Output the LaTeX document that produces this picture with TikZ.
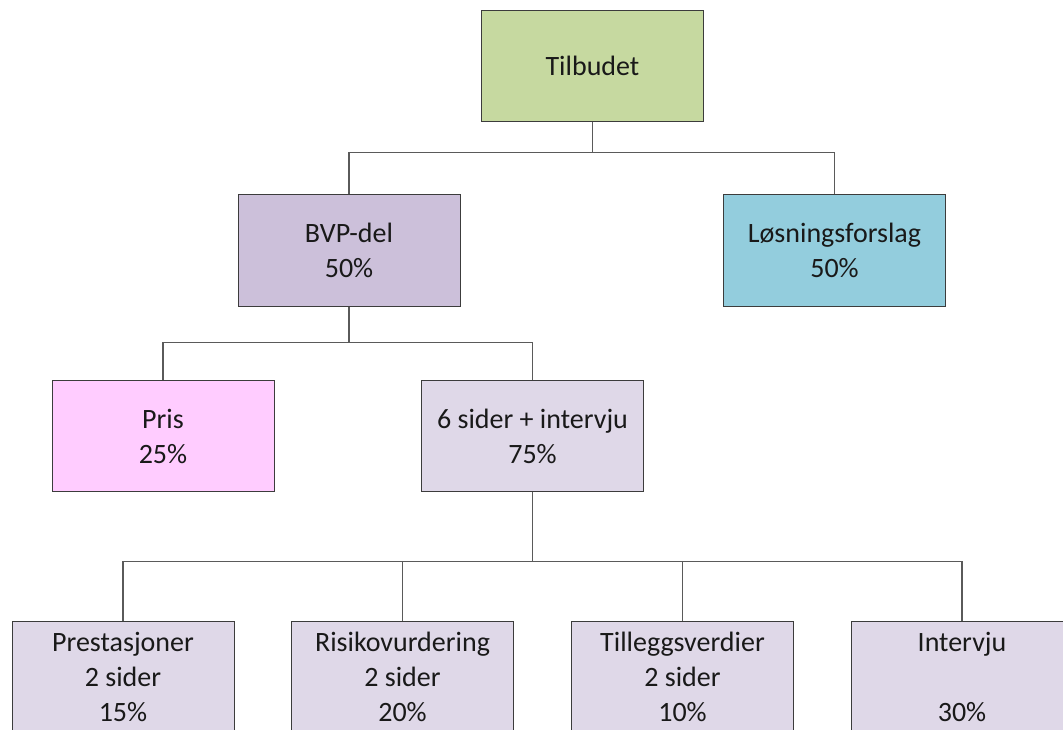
\documentclass[tikz,border=0pt]{standalone}
\usepackage{fontspec}
\setmainfont{Carlito}
\definecolor{topgreen}{HTML}{C6D9A0}
\definecolor{bvppurple}{HTML}{CCC0DA}
\definecolor{aqua}{HTML}{93CDDD}
\definecolor{pink}{HTML}{FFCCFF}
\definecolor{lavender}{HTML}{DFD8E8}
\definecolor{edge}{HTML}{3C3C3C}
\definecolor{wire}{HTML}{5A5A5A}
\tikzset{
  box/.style={draw=edge, line width=1pt, minimum width=222pt, minimum height=111pt,
    inner sep=0pt, align=center, text=black!90,
    font=\fontsize{28pt}{35pt}\selectfont},
  link/.style={draw=wire, line width=1.3pt}
}
\begin{document}
\begin{tikzpicture}[x=1pt,y=-1pt]
\useasboundingbox (0,0) rectangle (1063,730);
\clip (0,0) rectangle (1063,730);

% level 0
\node[box, fill=topgreen] (tilbud) at (592.5,66) {Tilbudet};

% level 1
\node[box, fill=bvppurple] (bvp) at (349,250.5) {BVP-del\\50\%};
\node[box, fill=aqua] (losning) at (834.5,250.5) {Løsningsforslag\\50\%};

% level 2
\node[box, fill=pink] (pris) at (163,436) {Pris\\25\%};
\node[box, fill=lavender] (sider) at (532.5,436) {6 sider + intervju\\75\%};

% level 3
\node[box, fill=lavender] (prest) at (123,676.5) {Prestasjoner\\2 sider\\15\%};
\node[box, fill=lavender] (risiko) at (402.5,676.5) {Risikovurdering\\2 sider\\20\%};
\node[box, fill=lavender] (tillegg) at (682.5,676.5) {Tilleggsverdier\\2 sider\\10\%};
\node[box, fill=lavender] (intervju) at (962,676.5) {Intervju\\\strut\\30\%};

% connectors
\draw[link] (tilbud.south) -- ++(0,30.5) coordinate (bus1);
\draw[link] (bvp.north) |- (bus1) -| (losning.north);

\draw[link] (bvp.south) -- ++(0,36) coordinate (bus2);
\draw[link] (pris.north) |- (bus2) -| (sider.north);

\draw[link] (sider.south) -- ++(0,69.5) coordinate (bus3);
\draw[link] (prest.north) |- (bus3) -| (intervju.north);
\draw[link] (risiko.north) -- (risiko.north |- bus3);
\draw[link] (tillegg.north) -- (tillegg.north |- bus3);
\end{tikzpicture}
\end{document}
